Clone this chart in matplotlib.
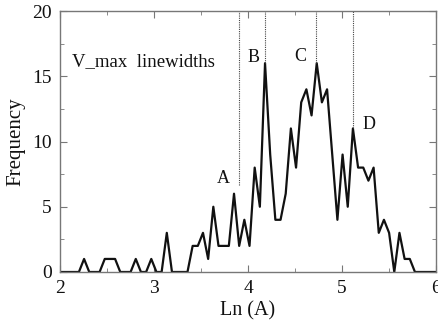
import numpy as np
import matplotlib
matplotlib.use('Agg')
import matplotlib.pyplot as plt
from matplotlib.ticker import MultipleLocator

# histogram of ln(linewidth), bin centres start at 1.981 with width 0.055
bin_start = 1.981
bin_width = 0.055
freq = [0, 0, 0, 0, 0, 1, 0, 0, 0, 1, 1, 1, 0, 0, 0, 1, 0, 0, 1, 0,
        0, 3, 0, 0, 0, 0, 2, 2, 3, 1, 5, 2, 2, 2, 6, 2, 4, 2, 8, 5,
        16, 9, 4, 4, 6, 11, 8, 13, 14, 12, 16, 13, 14, 9, 4, 9, 5, 11, 8, 8,
        7, 8, 3, 4, 3, 0, 3, 1, 1, 0, 0, 0, 0, 0, 0]

# marked peaks: name, position, height of the dotted marker bottom, label position
peak_names = ['A', 'B', 'C', 'D']
peak_pos = [3.909, 4.18, 4.727, 5.118]
peak_bottom = [6.7, 16.0, 16.0, 11.0]
label_x = [3.742, 4.062, 4.56, 5.289]
label_y = [7.2, 16.4, 16.5, 11.3]

ln_a = bin_start + bin_width * np.arange(len(freq))

plt.rcParams['font.family'] = ['Liberation Serif', 'DejaVu Serif']
ink = '#111111'

fig = plt.figure(figsize=(4.39, 3.22), dpi=100)
ax = fig.add_axes([0.1367, 0.1553, 0.8565, 0.8105])

ax.plot(ln_a, freq, color=ink, lw=1.6)

for name, xp, yb, lx, ly in zip(peak_names, peak_pos, peak_bottom, label_x, label_y):
    ax.plot([xp, xp], [yb, 20], color='#444444', lw=0.8, ls=(0, (1, 1)))
    ax.text(lx, ly, name, fontsize=13, ha='center', va='center', color=ink)

ax.text(2.13, 16.1, 'V_max  linewidths', fontsize=13.5, ha='left', va='center',
        color=ink)

ax.set_xlim(2, 6)
ax.set_ylim(0, 20)
ax.xaxis.set_major_locator(MultipleLocator(1))
ax.xaxis.set_minor_locator(MultipleLocator(0.5))
ax.yaxis.set_major_locator(MultipleLocator(5))
ax.yaxis.set_minor_locator(MultipleLocator(2.5))
ax.tick_params(which='both', direction='in', top=True, right=True,
               color='#777777', labelsize=14, labelcolor=ink, pad=6)
ax.tick_params(which='major', length=5)
ax.tick_params(which='minor', length=3)
for s in ax.spines.values():
    s.set_color('#777777')
    s.set_linewidth(1.0)

ax.set_xlabel('Ln (A)', fontsize=14.5, color=ink, labelpad=3)
ax.set_ylabel('Frequency', fontsize=15, color=ink, labelpad=5)

fig.savefig('out.png', dpi=100)
